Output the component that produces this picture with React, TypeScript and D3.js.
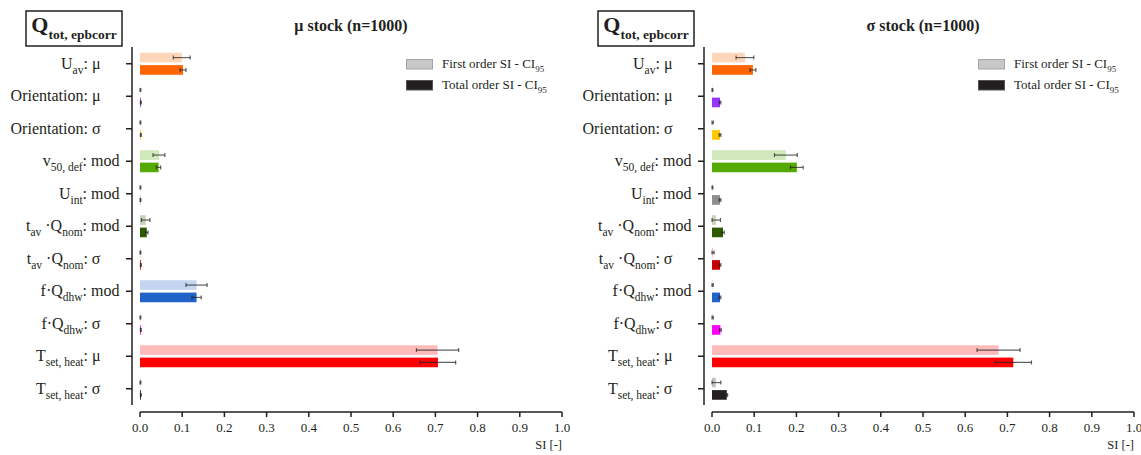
import * as d3 from "d3";

const WIDTH = 1141;
const HEIGHT = 455;
const FONT = "Liberation Serif, Times New Roman, serif";

// category labels as text segments, sub = subscript
type Seg = { t: string; sub?: boolean };
const labels: Seg[][] = [
  [{ t: "U" }, { t: "av", sub: true }, { t: ": μ" }],
  [{ t: "Orientation: μ" }],
  [{ t: "Orientation: σ" }],
  [{ t: "v" }, { t: "50, def", sub: true }, { t: ": mod" }],
  [{ t: "U" }, { t: "int", sub: true }, { t: ": mod" }],
  [{ t: "t" }, { t: "av", sub: true }, { t: " ·Q" }, { t: "nom", sub: true }, { t: ": mod" }],
  [{ t: "t" }, { t: "av", sub: true }, { t: " ·Q" }, { t: "nom", sub: true }, { t: ": σ" }],
  [{ t: "f·Q" }, { t: "dhw", sub: true }, { t: ": mod" }],
  [{ t: "f·Q" }, { t: "dhw", sub: true }, { t: ": σ" }],
  [{ t: "T" }, { t: "set, heat", sub: true }, { t: ": μ" }],
  [{ t: "T" }, { t: "set, heat", sub: true }, { t: ": σ" }],
];
const greekEnd = [true, true, true, false, false, false, true, false, true, true, true];

const colors = [
  "#FF6600", "#9933FF", "#FFC800", "#55AA00", "#8E8E8E", "#2D5A00",
  "#CC0000", "#1F62C8", "#FF00FF", "#FF0000", "#231F20",
];

// μ stock
const muS1 = [0.099, 0.001, 0.001, 0.045, 0.001, 0.0135, 0.001, 0.134, 0.001, 0.705, 0.001];
const muS1Conf = [0.02, 0.001, 0.001, 0.014, 0.001, 0.01, 0.001, 0.025, 0.001, 0.05, 0.001];
const muST = [0.102, 0.002, 0.002, 0.044, 0.001, 0.016, 0.002, 0.134, 0.002, 0.706, 0.002];
const muSTConf = [0.007, 0.001, 0.001, 0.005, 0.001, 0.003, 0.001, 0.011, 0.001, 0.042, 0.001];

// σ stock
const sdS1 = [0.078, 0.001, 0.001, 0.175, 0.001, 0.009, 0.002, 0.001, 0.001, 0.679, 0.009];
const sdS1Conf = [0.021, 0.001, 0.002, 0.027, 0.001, 0.011, 0.003, 0.002, 0.002, 0.051, 0.012];
const sdST = [0.097, 0.019, 0.019, 0.201, 0.019, 0.026, 0.019, 0.019, 0.02, 0.714, 0.035];
const sdSTConf = [0.007, 0.002, 0.002, 0.015, 0.002, 0.003, 0.002, 0.002, 0.002, 0.043, 0.002];

const xTicks = [0, 0.1, 0.2, 0.3, 0.4, 0.5, 0.6, 0.7, 0.8, 0.9, 1.0];

const lighten = (c: string) => d3.interpolateRgb("#ffffff", c)(0.27);

type PanelProps = {
  x0: number;
  title: string;
  s1: number[];
  s1c: number[];
  st: number[];
  stc: number[];
};

const Label = ({ segs, x, y, anchor, size, subSize, bold, fill }: any) => (
  <text
    x={x}
    y={y}
    textAnchor={anchor}
    fontSize={size}
    fontWeight={bold ? "bold" : "normal"}
    fill={fill || "#231F20"}
    style={{ fontFamily: FONT }}
  >
    {segs.map((s: Seg, i: number) => {
      const prevSub = i > 0 && segs[i - 1].sub;
      const dy = s.sub ? size * 0.3 : prevSub ? -size * 0.3 : 0;
      return (
        <tspan key={i} dy={dy} fontSize={s.sub ? subSize : size}>
          {s.t}
        </tspan>
      );
    })}
  </text>
);

const Panel = ({ x0, title, s1, s1c, st, stc }: PanelProps) => {
  const w = 422;
  const xScale = d3.scaleLinear().domain([0, 1]).range([x0, x0 + w]);
  const yScale = d3
    .scaleBand<number>()
    .domain(d3.range(labels.length))
    .range([47.5, 405]);
  const inner = d3
    .scaleBand<string>()
    .domain(["first", "total"])
    .range([-11, 11])
    .paddingInner(0.22);
  const axisX = x0 - 8;
  const axisY = 412;

  const errBar = (v: number, c: number, cy: number, key: string) => {
    const lo = xScale(Math.max(0, v - c));
    const hi = xScale(v + c);
    return (
      <g key={key} stroke="#222" strokeOpacity={0.72} strokeWidth={1.2}>
        <line x1={lo} x2={hi} y1={cy} y2={cy} />
        <line x1={lo} x2={lo} y1={cy - 2} y2={cy + 2} />
        <line x1={hi} x2={hi} y1={cy - 2} y2={cy + 2} />
      </g>
    );
  };

  return (
    <g>
      {/* output box */}
      <rect x={x0 - 114} y={11} width={96} height={35} fill="none" stroke="#231F20" strokeWidth={1.5} />
      <Label
        segs={[{ t: "Q" }, { t: "tot, epbcorr", sub: true }]}
        x={x0 - 66}
        y={32}
        anchor="middle"
        size={22}
        subSize={13.5}
        bold
      />
      <text
        x={x0 + w / 2}
        y={31}
        textAnchor="middle"
        fontSize={16}
        fontWeight="bold"
        fill="#231F20"
        style={{ fontFamily: FONT }}
      >
        {title}
      </text>

      {/* bars */}
      {labels.map((_, i) => {
        const c = (yScale(i) ?? 0) + yScale.bandwidth() / 2;
        const yf = c + (inner("first") ?? 0);
        const yt = c + (inner("total") ?? 0);
        const bw = inner.bandwidth();
        return (
          <g key={i}>
            <rect x={xScale(0)} y={yf} width={xScale(s1[i]) - xScale(0)} height={bw} fill={lighten(colors[i])} />
            <rect x={xScale(0)} y={yt} width={xScale(st[i]) - xScale(0)} height={bw} fill={colors[i]} />
            {errBar(s1[i], s1c[i], yf + bw / 2, "f")}
            {errBar(st[i], stc[i], yt + bw / 2, "t")}
          </g>
        );
      })}

      {/* y axis */}
      <line x1={axisX} x2={axisX} y1={47} y2={405} stroke="#231F20" strokeWidth={1.5} />
      {labels.map((segs, i) => {
        const c = (yScale(i) ?? 0) + yScale.bandwidth() / 2;
        return (
          <g key={i}>
            <line x1={axisX - 6} x2={axisX} y1={c} y2={c} stroke="#231F20" strokeWidth={1.5} />
            <Label
              segs={segs}
              x={greekEnd[i] ? axisX - 31.5 : axisX - 12.5}
              y={c + 5}
              anchor="end"
              size={16}
              subSize={11.5}
            />
          </g>
        );
      })}

      {/* x axis */}
      <line x1={xScale(0)} x2={xScale(1)} y1={axisY} y2={axisY} stroke="#231F20" strokeWidth={1.5} />
      {xTicks.map((t) => (
        <g key={t}>
          <line x1={xScale(t)} x2={xScale(t)} y1={axisY} y2={axisY + 5} stroke="#231F20" strokeWidth={1.5} />
          <text
            x={xScale(t)}
            y={432}
            textAnchor="middle"
            fontSize={13}
            fill="#231F20"
            style={{ fontFamily: FONT }}
          >
            {t.toFixed(1)}
          </text>
        </g>
      ))}
      <text x={xScale(1)} y={449} textAnchor="end" fontSize={12.5} fill="#231F20" style={{ fontFamily: FONT }}>
        SI [-]
      </text>

      {/* legend */}
      <rect x={x0 + 266.5} y={59.5} width={26} height={9.5} fill="#C8C8C8" stroke="#A5A5A5" strokeWidth={1} />
      <rect x={x0 + 266.5} y={80.5} width={26} height={9.5} fill="#231F20" stroke="#555" strokeWidth={1} />
      <Label
        segs={[{ t: "First order SI - CI" }, { t: "95", sub: true }]}
        x={x0 + 302}
        y={68}
        anchor="start"
        size={13}
        subSize={9}
      />
      <Label
        segs={[{ t: "Total order SI - CI" }, { t: "95", sub: true }]}
        x={x0 + 302}
        y={89}
        anchor="start"
        size={13}
        subSize={9}
      />
    </g>
  );
};

export default function App() {
  return (
    <svg
      width={WIDTH}
      height={HEIGHT}
      style={{ position: "absolute", left: 0, top: 0, background: "#fff", fontFamily: FONT }}
    >
      <rect width={WIDTH} height={HEIGHT} fill="#fff" />
      <Panel x0={140} title="μ stock (n=1000)" s1={muS1} s1c={muS1Conf} st={muST} stc={muSTConf} />
      <Panel x0={712} title="σ stock (n=1000)" s1={sdS1} s1c={sdS1Conf} st={sdST} stc={sdSTConf} />
    </svg>
  );
}
